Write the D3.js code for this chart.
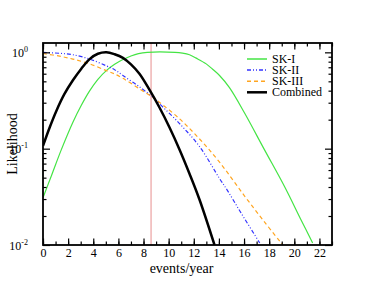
<!DOCTYPE html>
<html>
<head>
<meta charset="utf-8">
<script src="https://cdn.jsdelivr.net/npm/d3@7"></script>
<style>
  body { margin: 0; background: #fff; }
  text { font-family: "Liberation Serif", "DejaVu Serif", serif; fill: #000; }
</style>
</head>
<body>
<div id="chart"></div>
<script>
// values: [events/year, likelihood]
var sk1 = [[0, 0.031], [0.7, 0.0537], [1.46, 0.0977], [2.38, 0.188], [3.05, 0.282], [3.71, 0.398],
  [4.37, 0.525], [5.04, 0.646], [5.7, 0.75], [6.36, 0.841], [7.0, 0.916], [7.6, 0.97],
  [8.3, 1.0], [10.5, 1.0], [11.1, 0.982], [11.66, 0.944], [12.19, 0.871], [12.99, 0.759],
  [13.5, 0.668], [14.05, 0.575], [14.84, 0.43], [16.03, 0.236], [17.62, 0.0977],
  [19.21, 0.0407], [20.54, 0.0182], [21.46, 0.0105]]
var sk2 = [[0, 1.0], [1.33, 0.977], [2.38, 0.944], [3.71, 0.851], [5.04, 0.724], [5.7, 0.661],
  [6.36, 0.575], [7.69, 0.437], [8.88, 0.331], [9.28, 0.292], [10.87, 0.182], [12.46, 0.105],
  [14.05, 0.049], [14.71, 0.0363], [15.77, 0.0214], [17.25, 0.0105]]
var sk3 = [[0, 0.973], [1.33, 0.912], [2.38, 0.851], [3.71, 0.759], [5.04, 0.646], [5.7, 0.596],
  [6.36, 0.537], [7.69, 0.417], [8.88, 0.331], [9.28, 0.302], [10.87, 0.204], [12.46, 0.126],
  [14.05, 0.0724], [16.03, 0.0324], [17.62, 0.0174], [19.03, 0.0102]]
var combined = [[0, 0.107], [0.53, 0.166], [1.07, 0.248], [1.72, 0.372], [2.38, 0.513],
  [3.05, 0.676], [3.71, 0.851], [4.37, 0.966], [5.04, 1.0], [5.7, 0.955], [6.36, 0.877],
  [7.0, 0.75], [7.69, 0.596], [8.48, 0.407], [9.28, 0.266], [10.07, 0.166], [10.87, 0.0977],
  [11.66, 0.055], [12.46, 0.0295], [13.65, 0.01]]
var bestFit = 8.6

var xTicks = d3.range(0, 24, 2)
var yTicks = [0.01, 0.1, 1]
var yExp = ['-2', '-1', '0']

var series = [
  {name: 'SK-I', data: sk1, color: '#44e444', width: 1.2, dash: null},
  {name: 'SK-II', data: sk2, color: '#3333ff', width: 1.2, dash: '4,2,1,2,1,2'},
  {name: 'SK-III', data: sk3, color: '#ffa520', width: 1.2, dash: '4,3'},
  {name: 'Combined', data: combined, color: '#000', width: 2.5, dash: null}
]

var W = 374, H = 289
var margin = {top: 43, right: 42, bottom: 44, left: 43}
var width = W - margin.left - margin.right,
    height = H - margin.top - margin.bottom

var svg = d3.select('#chart').append('svg')
    .attr('width', W)
    .attr('height', H)

var g = svg.append('g')
    .attr('transform', 'translate(' + margin.left + ',' + margin.top + ')')

var x = d3.scaleLinear().domain([0, 23]).range([0, width])
var y = d3.scaleLog().domain([0.01, 1.25]).range([height, 0])

g.append('clipPath').attr('id', 'clip')
  .append('rect').attr('width', width).attr('height', height)

// vertical marker
g.append('line')
    .attr('x1', x(bestFit)).attr('x2', x(bestFit))
    .attr('y1', 0).attr('y2', height)
    .attr('stroke', '#e07070')
    .attr('stroke-width', 0.8)

var line = d3.line()
    .x(function(d) { return x(d[0]) })
    .y(function(d) { return y(d[1]) })
    .curve(d3.curveCatmullRom.alpha(0.5))

g.append('g').attr('clip-path', 'url(#clip)')
  .selectAll('path')
  .data(series)
  .enter()
  .append('path')
    .attr('d', function(d) { return line(d.data) })
    .attr('fill', 'none')
    .attr('stroke', function(d) { return d.color })
    .attr('stroke-width', function(d) { return d.width })
    .attr('stroke-dasharray', function(d) { return d.dash })

// ticks pointing inwards, on all four sides
var xMinor = d3.range(0, 24, 1)
g.append('g').attr('transform', 'translate(0,' + height + ')')
    .call(d3.axisBottom(x).tickValues(xMinor).tickSize(-3.5).tickFormat(''))
    .call(function(a) { a.select('.domain').remove() })
g.append('g').attr('transform', 'translate(0,' + height + ')')
    .call(d3.axisBottom(x).tickValues(xTicks).tickSize(-6.5).tickPadding(3).tickFormat(d3.format('d')))
    .call(function(a) { a.select('.domain').remove() })
g.append('g')
    .call(d3.axisTop(x).tickValues(xMinor).tickSize(-3.5).tickFormat(''))
    .call(function(a) { a.select('.domain').remove() })
g.append('g')
    .call(d3.axisTop(x).tickValues(xTicks).tickSize(-6.5).tickFormat(''))
    .call(function(a) { a.select('.domain').remove() })

var yMinor = []
;[0.01, 0.1].forEach(function(b) {
  for (var k = 2; k <= 9; k++) yMinor.push(b * k)
})
g.append('g')
    .call(d3.axisLeft(y).tickValues(yMinor).tickSize(-3.5).tickFormat(''))
    .call(function(a) { a.select('.domain').remove() })
g.append('g')
    .call(d3.axisLeft(y).tickValues(yTicks).tickSize(-7).tickFormat(''))
    .call(function(a) { a.select('.domain').remove() })
g.append('g').attr('transform', 'translate(' + width + ',0)')
    .call(d3.axisRight(y).tickValues(yMinor).tickSize(-3.5).tickFormat(''))
    .call(function(a) { a.select('.domain').remove() })
g.append('g').attr('transform', 'translate(' + width + ',0)')
    .call(d3.axisRight(y).tickValues(yTicks).tickSize(-7).tickFormat(''))
    .call(function(a) { a.select('.domain').remove() })

g.selectAll('.tick line').attr('stroke', '#000').attr('stroke-width', 1.2)
g.selectAll('.tick text').attr('font-size', 12)
    .style('font-family', '"Liberation Serif", serif')

// y labels as 10^n
var yl = g.selectAll('.ylab')
  .data(yTicks)
  .enter()
  .append('text')
    .attr('class', 'ylab')
    .attr('x', -15)
    .attr('y', function(d) { return y(d) + 4.5 })
    .attr('text-anchor', 'end')
    .attr('font-size', 12)
yl.append('tspan').text('10')
yl.append('tspan')
    .attr('dy', -5)
    .attr('font-size', 8)
    .text(function(d, i) { return yExp[i] })

// frame
g.append('rect')
    .attr('width', width).attr('height', height)
    .attr('fill', 'none')
    .attr('stroke', '#000')
    .attr('stroke-width', 1.8)

// axis titles
svg.append('text')
    .attr('x', margin.left + width / 2 - 6)
    .attr('y', 273)
    .attr('text-anchor', 'middle')
    .attr('font-size', 14)
    .text('events/year')

svg.append('text')
    .attr('transform', 'translate(17,144) rotate(-90)')
    .attr('text-anchor', 'middle')
    .attr('font-size', 14)
    .text('Likelihood')

// legend
var legend = svg.append('g')
    .attr('transform', 'translate(247,59)')
var item = legend.selectAll('g')
  .data(series)
  .enter()
  .append('g')
    .attr('transform', function(d, i) { return 'translate(0,' + (i * 11.1) + ')' })
item.append('line')
    .attr('x1', 0).attr('x2', 20)
    .attr('stroke', function(d) { return d.color })
    .attr('stroke-width', function(d) { return d.name == 'Combined' ? 2.5 : 1.5 })
    .attr('stroke-dasharray', function(d) { return d.dash })
item.append('text')
    .attr('x', 25)
    .attr('y', 4)
    .attr('font-size', 12)
    .text(function(d) { return d.name })
</script>
</body>
</html>
